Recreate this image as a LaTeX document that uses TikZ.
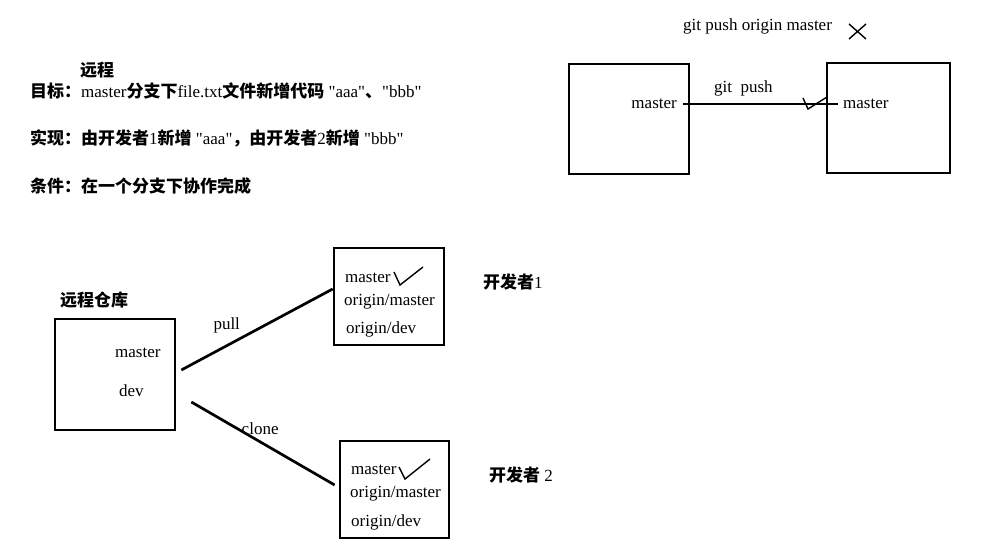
\documentclass[tikz,border=0pt]{standalone}
\usepackage{fontspec}
\setmainfont{Liberation Serif}[Ligatures=TeXOff]
\newfontfamily\cjk{Noto Sans CJK SC}
\newcommand{\zhtext}[1]{{\cjk\bfseries\fontsize{17}{20}\selectfont #1}}
\newcommand{\dq}{\char34\relax}
\begin{document}
\begin{tikzpicture}[x=1pt,y=-1pt,
  box/.style={draw, line width=2.7pt, inner sep=0pt},
  txt/.style={inner sep=0pt, anchor=west, font=\fontsize{17}{20}\selectfont},
  link/.style={line width=2.7pt},
  tick/.style={line width=1.4pt}]
\useasboundingbox (0,0) rectangle (1007,546);
% description
\node[txt] (t0) at (80,70) {\zhtext{远程}};
\node[txt] (t1) at (30,91) {\zhtext{目标：}master\zhtext{分支下}file.txt\zhtext{文件新增代码} \dq aaa\dq\zhtext{、}\dq bbb\dq};
\node[txt] (t2) at (30,138) {\zhtext{实现：由开发者}1\zhtext{新增} \dq aaa\dq\zhtext{，由开发者}2\zhtext{新增} \dq bbb\dq};
\node[txt] (t3) at (30,186) {\zhtext{条件：在一个分支下协作完成}};
% top right
\node[txt] (gpo) at (683,26) {git push origin master};
\draw[tick] (849,24) -- (866,39) (849,39) -- (866,24);
\node[box, minimum width=120, minimum height=110] (lb) at (629,119) {};
\node[box, minimum width=123, minimum height=110] (rb) at (888.5,118) {};
\node[txt, anchor=east] (lm) at (677,104) {master};
\node[txt] (rm) at (843,104) {master};
\draw[link] ([xshift=6pt]lm.east) -- node[pos=0.39, above=3pt, font=\fontsize{17}{20}\selectfont] {git\ \ push} ([xshift=-5pt]rm.west);
\draw[tick] (803,98) -- (808,109) -- (827,97);
% bottom
\node[txt] (rl) at (60,300) {\zhtext{远程仓库}};
\node[box, minimum width=120, minimum height=111] (remote) at (115,374.5) {};
\node[txt] (rmaster) at (115,353) {master};
\node[txt] (rdev) at (119,391) {dev};
\node[box, minimum width=110, minimum height=97] (d1) at (389,296.5) {};
\node[txt] (d1a) at (345,278) {master};
\node[txt] (d1b) at (344,302) {origin/master};
\node[txt] (d1c) at (346,329) {origin/dev};
\draw[tick] (394,272) -- (400,285) -- (423,267);
\node[txt] (d1l) at (483,282) {\zhtext{开发者}1};
\node[box, minimum width=109, minimum height=97] (d2) at (394.5,489.5) {};
\node[txt] (d2a) at (351,470) {master};
\node[txt] (d2b) at (350,494) {origin/master};
\node[txt] (d2c) at (351,522) {origin/dev};
\draw[tick] (399,467) -- (405,479) -- (430,459);
\node[txt] (d2l) at (489,475) {\zhtext{开发者} 2};
\draw[link] ([xshift=5pt,yshift=4.5pt]remote.east) -- node[pos=0.3, above=8pt, font=\fontsize{17}{20}\selectfont] {pull} ([yshift=7.5pt]d1.west);
\draw[link] ([xshift=15pt,yshift=-27.5pt]remote.east) -- node[pos=0.48, above=2pt, font=\fontsize{17}{20}\selectfont] {clone} ([xshift=-4pt,yshift=4.5pt]d2.west);
\end{tikzpicture}
\end{document}
